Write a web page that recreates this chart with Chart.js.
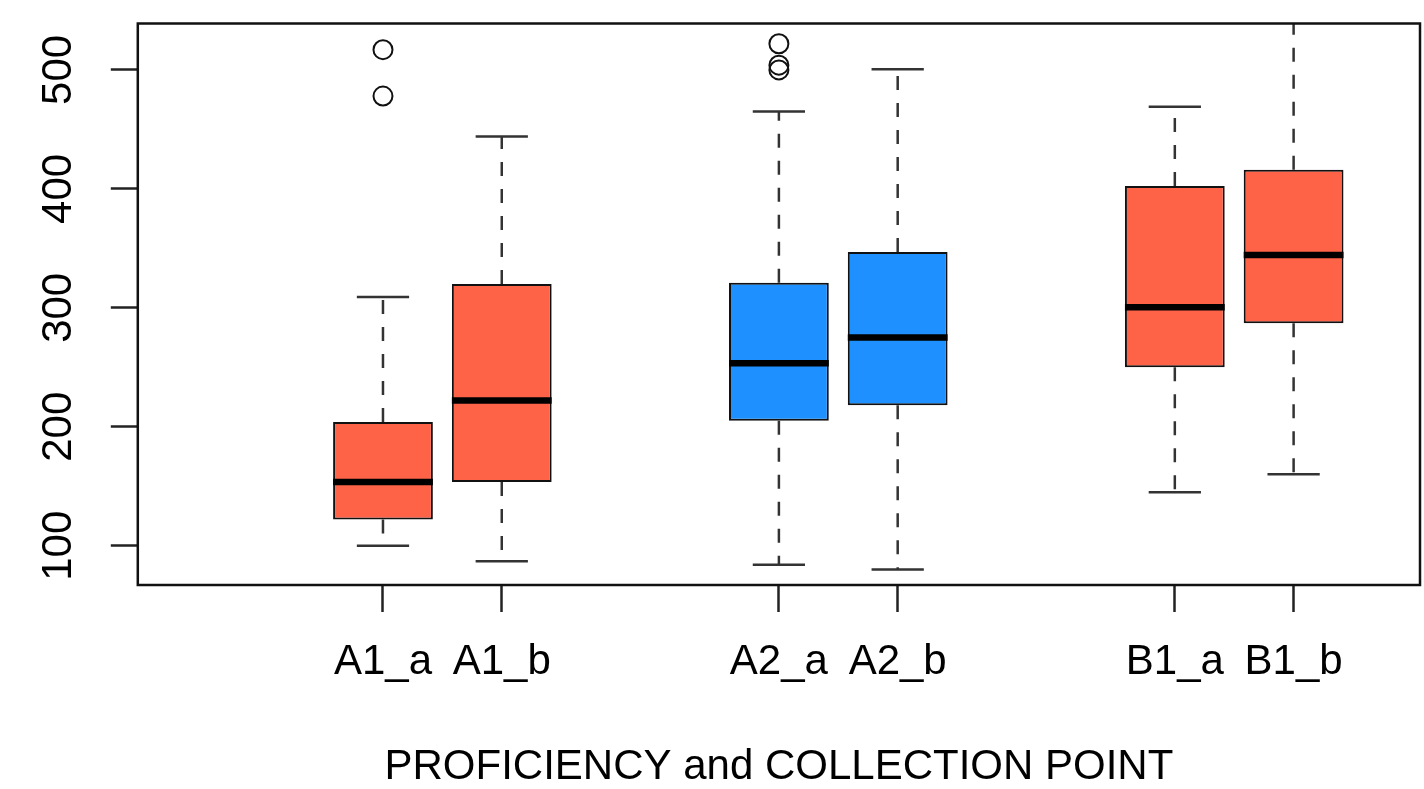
<!DOCTYPE html>
<html>
<head>
<meta charset="utf-8">
<script src="https://cdn.jsdelivr.net/npm/chart.js@4.4.0/dist/chart.umd.min.js"></script>
<style>
  html, body { margin: 0; padding: 0; background: #fff; overflow: hidden; }
  #wrap { width: 1424px; height: 789px; }
</style>
</head>
<body>
<div id="wrap"><canvas id="chart"></canvas></div>
<script>
// box statistics, one entry per category
const categories = ["A1_a", "A1_b", "A2_a", "A2_b", "B1_a", "B1_b"];
const whiskerLow = [100, 87, 84, 80, 145, 160];
const quartile1 = [122, 153.5, 205, 218, 250, 287];
const medians = [153.5, 222, 253.5, 275, 300.5, 344.5];
const quartile3 = [204, 320, 321, 347, 402.5, 416];
const whiskerHigh = [309, 444, 465, 500.5, 469, 560];
const outliers = [[478, 517], [], [500, 504, 522], [], [], []];
const yTicks = [100, 200, 300, 400, 500];
const xTitle = "PROFICIENCY and COLLECTION POINT";

const boxColors = ["tomato", "tomato", "dodgerblue", "dodgerblue", "tomato", "tomato"];

// two boxes per group, groups spread apart on the x scale
const GROUP_STEP = 3.333;
const BOX_HALF = 0.42;
const CAP_HALF = 0.22;
function boxX(i) {
    return Math.floor(i / 2) * GROUP_STEP + (i % 2) + 1;
}

const boxData = categories.map((c, i) => ({ x: boxX(i), y: [quartile1[i], quartile3[i]] }));

const whiskerData = [];
const capData = [];
const medianData = [];
const outlierData = [];
categories.forEach((c, i) => {
    const x = boxX(i);
    whiskerData.push({ x: x, y: quartile3[i] }, { x: x, y: whiskerHigh[i] }, { x: x, y: null });
    whiskerData.push({ x: x, y: quartile1[i] }, { x: x, y: whiskerLow[i] }, { x: x, y: null });
    capData.push({ x: x - CAP_HALF, y: whiskerHigh[i] }, { x: x + CAP_HALF, y: whiskerHigh[i] }, { x: x + CAP_HALF, y: null });
    capData.push({ x: x - CAP_HALF, y: whiskerLow[i] }, { x: x + CAP_HALF, y: whiskerLow[i] }, { x: x + CAP_HALF, y: null });
    medianData.push({ x: x - BOX_HALF, y: medians[i] }, { x: x + BOX_HALF, y: medians[i] }, { x: x + BOX_HALF, y: null });
    outliers[i].forEach(v => outlierData.push({ x: x, y: v }));
});

const framePlugin = {
    id: "frame",
    afterDatasetsDraw(chart) {
        const ctx = chart.ctx;
        const a = chart.chartArea;
        ctx.save();
        ctx.strokeStyle = "#111";
        ctx.lineWidth = 2.5;
        ctx.strokeRect(a.left, a.top, a.right - a.left, a.bottom - a.top);
        ctx.restore();
    }
};

// keep tick labels from pushing the plot area around
function noScalePadding(s) {
    s.paddingTop = 0;
    s.paddingBottom = 0;
    s.paddingLeft = 0;
    s.paddingRight = 0;
}

const font = "'Liberation Sans', Arial, Helvetica, sans-serif";

new Chart(document.getElementById("chart"), {
    type: "bar",
    data: {
        datasets: [
            {
                type: "line",
                data: medianData,
                borderColor: "#000",
                borderWidth: 6.5,
                borderCapStyle: "butt",
                pointRadius: 0,
                spanGaps: false,
                order: 0
            },
            {
                type: "scatter",
                data: outlierData,
                pointStyle: "circle",
                pointRadius: 9.5,
                pointBorderWidth: 2,
                pointBorderColor: "#111",
                pointBackgroundColor: "rgba(0,0,0,0)",
                order: 1
            },
            {
                type: "line",
                data: capData,
                borderColor: "#333",
                borderWidth: 2.5,
                pointRadius: 0,
                spanGaps: false,
                order: 2
            },
            {
                type: "line",
                data: whiskerData,
                borderColor: "#333",
                borderWidth: 2.5,
                borderDash: [14, 13],
                pointRadius: 0,
                spanGaps: false,
                order: 3
            },
            {
                data: boxData,
                backgroundColor: boxColors,
                borderColor: "#111",
                borderWidth: 2,
                borderSkipped: false,
                barPercentage: 0.84,
                categoryPercentage: 1,
                order: 4
            }
        ]
    },
    options: {
        responsive: true,
        maintainAspectRatio: false,
        devicePixelRatio: 1,
        animation: false,
        layout: { autoPadding: false, padding: { left: 0, right: 4, top: 23.5, bottom: 0 } },
        plugins: {
            legend: { display: false },
            tooltip: { enabled: false }
        },
        scales: {
            x: {
                type: "linear",
                min: -1.064,
                max: 9.73,
                offset: false,
                afterBuildTicks: s => { s.ticks = categories.map((c, i) => ({ value: boxX(i) })); },
                afterFit: s => { s.height = 204; noScalePadding(s); },
                ticks: {
                    autoSkip: false,
                    maxRotation: 0,
                    padding: 25,
                    color: "#000",
                    font: { family: font, size: 42 },
                    callback: function (value) {
                        const i = categories.findIndex((c, k) => Math.abs(boxX(k) - value) < 1e-6);
                        return i >= 0 ? categories[i] : "";
                    }
                },
                grid: { offset: false, drawOnChartArea: false, tickLength: 27, tickColor: "#222", tickWidth: 2.5 },
                border: { display: false },
                title: {
                    display: true,
                    text: xTitle,
                    color: "#000",
                    font: { family: font, size: 42, lineHeight: 1 },
                    padding: { top: 0, bottom: 1 }
                }
            },
            y: {
                type: "linear",
                min: 67,
                max: 539,
                afterBuildTicks: s => { s.ticks = yTicks.map(v => ({ value: v })); },
                afterFit: s => { s.width = 137.8; noScalePadding(s); },
                ticks: {
                    minRotation: 90,
                    maxRotation: 90,
                    crossAlign: "center",
                    padding: 16,
                    color: "#000",
                    font: { family: font, size: 42 }
                },
                grid: { drawOnChartArea: false, tickLength: 27, tickColor: "#222", tickWidth: 2.5 },
                border: { display: false }
            }
        }
    },
    plugins: [framePlugin]
});
</script>
</body>
</html>
